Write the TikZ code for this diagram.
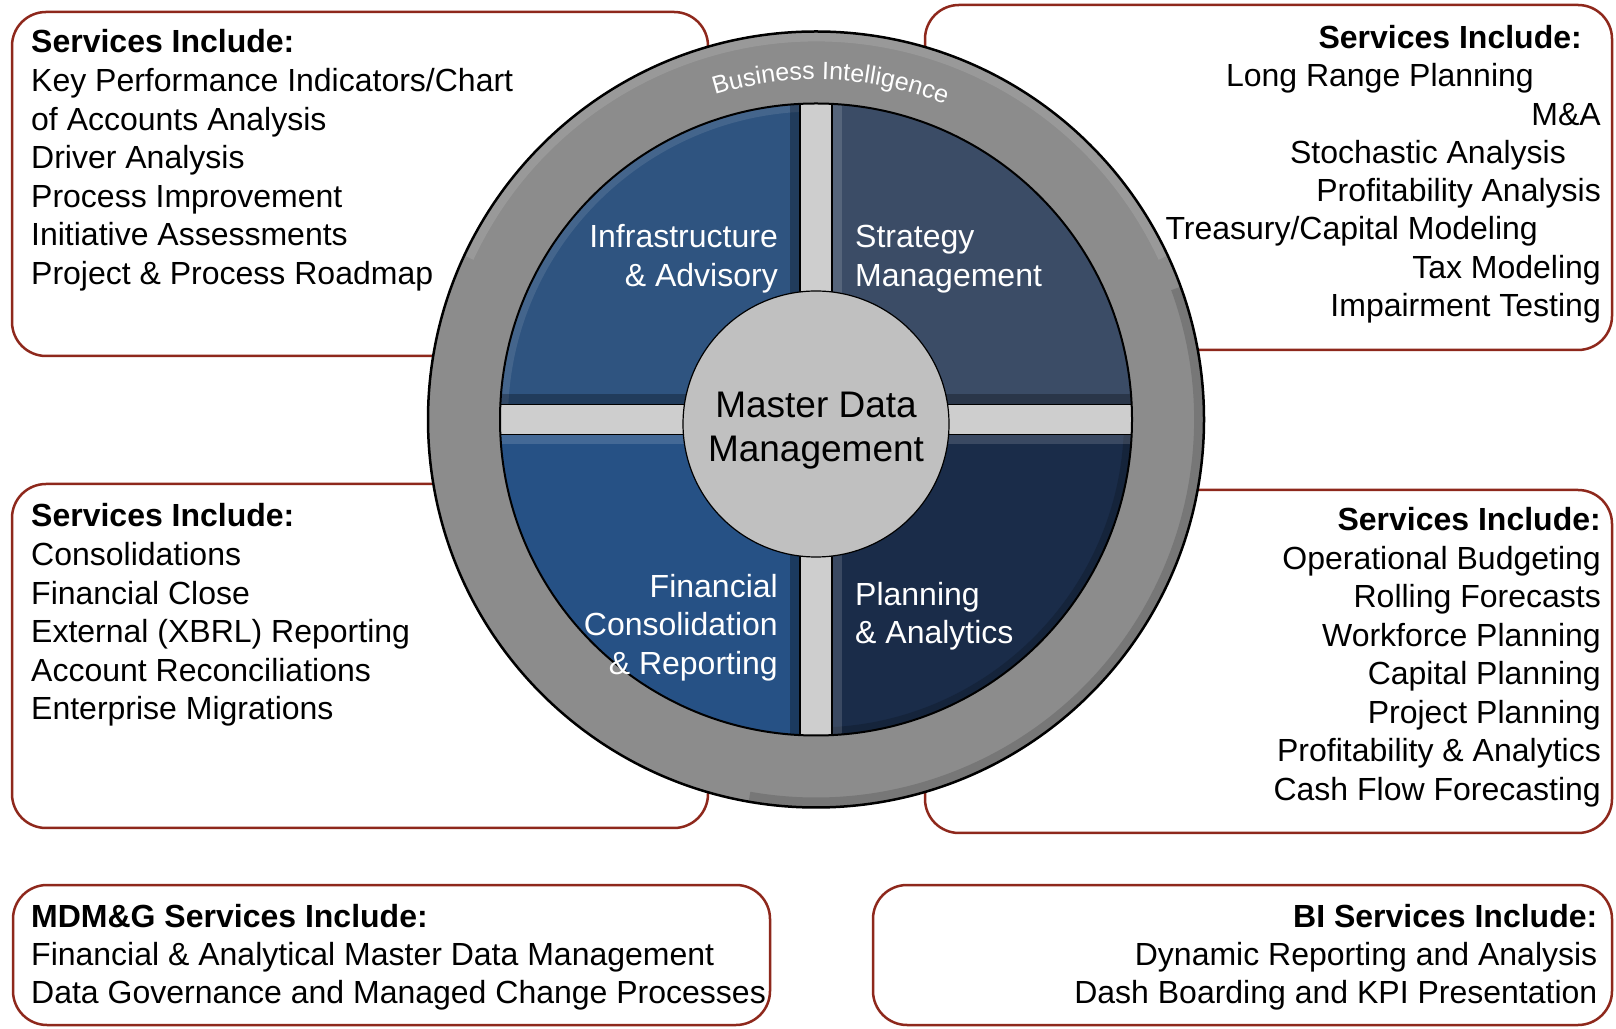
\documentclass[tikz,border=0pt]{standalone}
\usepackage{fontspec}
\setmainfont{Liberation Sans}
\usetikzlibrary{decorations.text}
\definecolor{boxred}{RGB}{142,40,28}
\definecolor{ringgray}{RGB}{140,140,140}
\definecolor{bargray}{RGB}{206,206,206}
\definecolor{centgray}{RGB}{192,192,192}
\definecolor{qtl}{RGB}{47,84,128}
\definecolor{qtr}{RGB}{59,76,102}
\definecolor{qbl}{RGB}{38,81,133}
\definecolor{qbr}{RGB}{26,44,73}
\newcommand{\bifont}{\fontsize{25}{25}\selectfont}
\begin{document}
\begin{tikzpicture}[x=1pt,y=1pt,
  svcbox/.style={draw=boxred,line width=2.5pt,fill=white,rounded corners=34pt},
  bodytxt/.style={inner sep=0pt,font=\fontsize{32}{38}\selectfont},
  lt/.style={bodytxt,anchor=base west},
  rt/.style={bodytxt,anchor=base east},
  hd/.style={font=\fontsize{32}{38}\selectfont\bfseries},
  qtext/.style={text=white,inner sep=0pt,font=\fontsize{32}{38}\selectfont},
  lightband/.style={fill=white,fill opacity=0.14},
  darkband/.style={fill=black,fill opacity=0.28},
  bar/.style={fill=bargray,draw=black,line width=1.2pt}]

\path[use as bounding box,fill=white] (0,0) rectangle (1616,1028);

% ---------- service boxes ----------
\path[svcbox] (12,672) rectangle (708,1016);
\path[svcbox] (925,678) rectangle (1612,1023);
\path[svcbox] (12,200) rectangle (708,544);
\path[svcbox] (925,195) rectangle (1612,538);
\path[svcbox] (13,3) rectangle (770,143);
\path[svcbox] (873,3) rectangle (1612,143);

% ---------- wheel ----------
\coordinate (C) at (816,608.5);
\fill[ringgray] (C) circle (388);
\begin{scope}
  \clip (C) circle (388);
  \draw[white,opacity=0.12,line width=12] ([shift={(155:384)}]C) arc[start angle=155,end angle=25,radius=384];
  \draw[black,opacity=0.15,line width=12] ([shift={(20:384)}]C) arc[start angle=20,end angle=-100,radius=384];
\end{scope}

% top-left quadrant
\begin{scope}
  \clip (C) -- ++(180:316) arc[start angle=180,end angle=90,radius=316] -- cycle;
  \fill[qtl] (C) circle (316);
  \draw[white,opacity=0.1,line width=16] (C) circle (316);
  \fill[darkband] (500,608.5) rectangle (816,633.5);
  \fill[darkband] (790,633.5) rectangle (816,924.5);
\end{scope}
% top-right quadrant
\begin{scope}
  \clip (C) -- ++(0:316) arc[start angle=0,end angle=90,radius=316] -- cycle;
  \fill[qtr] (C) circle (316);
  \fill[lightband] (816,633.5) rectangle (842,924.5);
  \fill[darkband] (816,608.5) rectangle (1132,633.5);
\end{scope}
% bottom-left quadrant
\begin{scope}
  \clip (C) -- ++(180:316) arc[start angle=180,end angle=270,radius=316] -- cycle;
  \fill[qbl] (C) circle (316);
  \fill[lightband] (500,583.5) rectangle (816,608.5);
  \fill[darkband] (790,292.5) rectangle (816,583.5);
\end{scope}
% bottom-right quadrant
\begin{scope}
  \clip (C) -- ++(0:316) arc[start angle=0,end angle=-90,radius=316] -- cycle;
  \fill[qbr] (C) circle (316);
  \draw[black,opacity=0.18,line width=16] (C) circle (316);
  \fill[lightband] (816,583.5) rectangle (1132,608.5);
  \fill[lightband] (816,292.5) rectangle (842,583.5);
\end{scope}

% cross bars
\begin{scope}
  \clip (C) circle (316);
  \path[bar] (800,280) rectangle (832,940);
  \path[bar] (480,593.5) rectangle (1150,623.5);
\end{scope}

% ring outlines
\draw[black,line width=2.5pt] (C) circle (388);
\draw[black,line width=2pt] (C) circle (316);

% ring label
\path[decorate,decoration={text along path,text align=center,text color=white,
  text={|\bifont|Business Intelligence}}]
  ([shift={(110:340)}]C) arc[start angle=110,end angle=65,radius=340];

% centre circle
\node[circle,fill=centgray,draw=black,line width=1.2pt,minimum size=266pt,inner sep=0pt] (mdm) at (816,604) {};
\node[bodytxt,font=\fontsize{37}{44}\selectfont,anchor=base] (mdm1) at (816,610) {Master Data};
\node[bodytxt,font=\fontsize{37}{44}\selectfont,anchor=base] (mdm2) at (816,566) {Management};

% quadrant labels
\node[qtext,anchor=base east] (ia1) at (778,780) {Infrastructure};
\node[qtext,anchor=base east] (ia2) at (778,741) {\& Advisory};
\node[qtext,anchor=base west] (sm1) at (855,780) {Strategy};
\node[qtext,anchor=base west] (sm2) at (855,741) {Management};
\node[qtext,anchor=base east] (fc1) at (778,430) {Financial};
\node[qtext,anchor=base east] (fc2) at (778,392) {Consolidation};
\node[qtext,anchor=base east] (fc3) at (778,353) {\& Reporting};
\node[qtext,anchor=base west] (pa1) at (855,422) {Planning};
\node[qtext,anchor=base west] (pa2) at (855,384) {\& Analytics};

% ---------- box texts ----------
% top-left
\node[lt,hd] (tlh) at (31,975) {Services Include:};
\foreach \t [count=\i] in {{Key Performance Indicators/Chart},{of Accounts Analysis},{Driver Analysis},{Process Improvement},{Initiative Assessments},{Project \& Process Roadmap}}
  \node[lt] (tl\i) at (31,{975-38.6*\i}) {\t};

% top-right
\node[rt,hd] (trh) at (1582,979.5) {Services Include:};
\node[rt] (tr1) at (1534,941.2) {Long Range Planning};
\node[rt] (tr2) at (1601,902.9) {M\&A};
\node[rt] (tr3) at (1566,864.6) {Stochastic Analysis};
\node[rt] (tr4) at (1601,826.3) {Profitability Analysis};
\node[rt] (tr5) at (1538,788) {Treasury/Capital Modeling};
\node[rt] (tr6) at (1601,749.7) {Tax Modeling};
\node[rt] (tr7) at (1601,711.4) {Impairment Testing};

% middle-left
\node[lt,hd] (mlh) at (31,501) {Services Include:};
\foreach \t [count=\i] in {{Consolidations},{Financial Close},{External (XBRL) Reporting},{Account Reconciliations},{Enterprise Migrations}}
  \node[lt] (ml\i) at (31,{501-38.6*\i}) {\t};

% middle-right
\node[rt,hd] (mrh) at (1601,497) {Services Include:};
\foreach \t [count=\i] in {{Operational Budgeting},{Rolling Forecasts},{Workforce Planning},{Capital Planning},{Project Planning},{Profitability \& Analytics},{Cash Flow Forecasting}}
  \node[rt] (mr\i) at (1601,{497-38.47*\i}) {\t};

% bottom-left
\node[lt,hd] (blh) at (31,101) {MDM\&G Services Include:};
\node[lt] (bl1) at (31,63) {Financial \& Analytical Master Data Management};
\node[lt] (bl2) at (31,24.7) {Data Governance and Managed Change Processes};

% bottom-right
\node[rt,hd] (brh) at (1597.5,101) {BI Services Include:};
\node[rt] (br1) at (1597.5,63) {Dynamic Reporting and Analysis};
\node[rt] (br2) at (1597.5,24.7) {Dash Boarding and KPI Presentation};
\end{tikzpicture}
\end{document}
